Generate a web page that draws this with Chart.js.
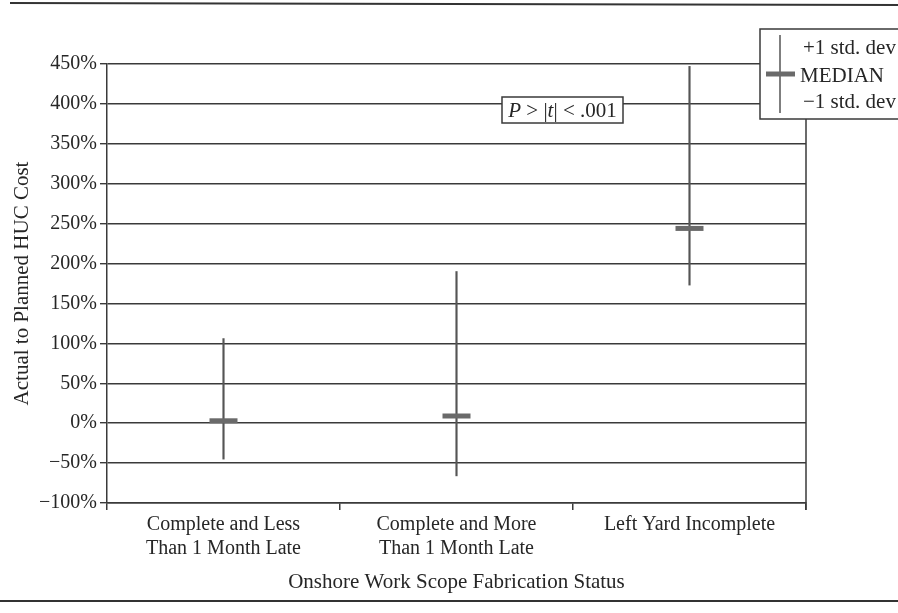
<!DOCTYPE html>
<html><head><meta charset="utf-8">
<script src="https://cdn.jsdelivr.net/npm/chart.js@4/dist/chart.umd.min.js"></script>
<style>html,body{margin:0;padding:0;background:#fff}#wrap{width:898px;height:613px;position:relative}</style>
</head><body><div id="wrap"><canvas id="c" width="898" height="613"></canvas></div>
<script>
// ---- data ----
const categories = [["Complete and Less","Than 1 Month Late"],["Complete and More","Than 1 Month Late"],["Left Yard Incomplete"]];
const plusOneSD = [106, 190, 447];
const minusOneSD = [-45, -66, 173];
const medians = [3, 9, 244];
const yMin = -100, yMax = 450, yStep = 50;
const xTitle = "Onshore Work Scope Fabrication Status";
const yTitle = "Actual to Planned HUC Cost";
const legendLabels = ["+1 std. dev", "MEDIAN", "\u22121 std. dev"];
const annotationParts = [["P", true], [" > |", false], ["t", true], ["| < .001", false]];

const FONT = '"Liberation Serif", "Times New Roman", serif';
const LINE = '#3a3a3a';
const TEXT = '#262626';

const deco = {
  id: 'deco',
  afterDraw(chart) {
    const ctx = chart.ctx, a = chart.chartArea;
    ctx.save();
    // right border of plot
    ctx.strokeStyle = LINE; ctx.lineWidth = 1.5;
    ctx.beginPath(); ctx.moveTo(a.right, a.top); ctx.lineTo(a.right, a.bottom + 7); ctx.stroke();
    // page rules
    ctx.lineWidth = 2; ctx.strokeStyle = '#333';
    ctx.beginPath(); ctx.moveTo(10, 3); ctx.lineTo(898, 5); ctx.stroke();
    ctx.beginPath(); ctx.moveTo(0, 601); ctx.lineTo(898, 601); ctx.stroke();

    // annotation box
    const bx = 502, by = 97, bw = 121, bh = 26;
    ctx.fillStyle = '#fff'; ctx.fillRect(bx, by, bw, bh);
    ctx.strokeStyle = LINE; ctx.lineWidth = 1.5; ctx.strokeRect(bx, by, bw, bh);
    ctx.fillStyle = TEXT; ctx.textBaseline = 'middle';
    let total = 0;
    const widths = annotationParts.map(([t, it]) => { ctx.font = (it ? 'italic ' : '') + '21px ' + FONT; const w = ctx.measureText(t).width; total += w; return w; });
    let x = bx + bw / 2 - total / 2;
    annotationParts.forEach(([t, it], i) => { ctx.font = (it ? 'italic ' : '') + '21px ' + FONT; ctx.textAlign = 'left'; ctx.fillText(t, x, by + bh / 2 + 1); x += widths[i]; });

    // legend box
    const lx = 760, ly = 29, lh = 90;
    ctx.fillStyle = '#fff'; ctx.fillRect(lx, ly, 160, lh);
    ctx.strokeStyle = LINE; ctx.lineWidth = 1.5; ctx.strokeRect(lx, ly, 160, lh);
    ctx.strokeStyle = '#555'; ctx.lineWidth = 1.5;
    ctx.beginPath(); ctx.moveTo(780, 35); ctx.lineTo(780, 113); ctx.stroke();
    ctx.strokeStyle = '#6a6a6a'; ctx.lineWidth = 5;
    ctx.beginPath(); ctx.moveTo(766, 74); ctx.lineTo(795, 74); ctx.stroke();
    ctx.fillStyle = TEXT; ctx.font = '21px ' + FONT; ctx.textAlign = 'left'; ctx.textBaseline = 'middle';
    ctx.fillText(legendLabels[0], 803, 48);
    ctx.fillText(legendLabels[1], 800, 76);
    ctx.fillText(legendLabels[2], 803, 102);
    ctx.restore();
  }
};

new Chart(document.getElementById('c'), {
  data: {
    labels: categories,
    datasets: [
      {
        type: 'line', label: 'Median', data: medians, showLine: false, order: 0,
        pointStyle: 'line', pointRadius: 14, pointHoverRadius: 14,
        pointBorderWidth: 5, pointHoverBorderWidth: 5,
        pointBorderColor: '#6a6a6a', pointBackgroundColor: '#6a6a6a'
      },
      {
        type: 'bar', label: '±1 std. dev', order: 1,
        data: categories.map((_, i) => [minusOneSD[i], plusOneSD[i]]),
        barThickness: 1.5, backgroundColor: '#555', borderWidth: 0
      }
    ]
  },
  options: {
    responsive: false, animation: false, devicePixelRatio: 1,
    layout: { padding: { top: 64, right: 92, left: 0, bottom: 0 } },
    plugins: { legend: { display: false }, tooltip: { enabled: false } },
    scales: {
      x: {
        type: 'category',
        afterFit(s) { s.height = 110; },
        grid: { offset: true, drawOnChartArea: false, drawTicks: true, tickLength: 7, color: LINE, lineWidth: 1.5 },
        border: { display: true, color: LINE, width: 1.5 },
        ticks: { color: TEXT, font: { family: FONT, size: 20, lineHeight: 1.2 }, padding: 3, maxRotation: 0, autoSkip: false },
        title: { display: true, text: xTitle, color: TEXT, font: { family: FONT, size: 21, lineHeight: 1.2 }, padding: { top: 0, bottom: 18 } }
      },
      y: {
        min: yMin, max: yMax,
        afterFit(s) { s.width = 107; },
        grid: { color: LINE, lineWidth: 1.4, tickLength: 7, drawTicks: true },
        border: { display: true, color: LINE, width: 1.5 },
        ticks: {
          stepSize: yStep, padding: 3, color: TEXT,
          font: { family: FONT, size: 20 },
          callback: v => (v < 0 ? '\u2212' + Math.abs(v) : v) + '%'
        },
        title: { display: true, text: yTitle, color: TEXT, font: { family: FONT, size: 21, lineHeight: 1.2 }, padding: { top: 10, bottom: 0 } }
      }
    }
  },
  plugins: [deco]
});
</script>
</body></html>
